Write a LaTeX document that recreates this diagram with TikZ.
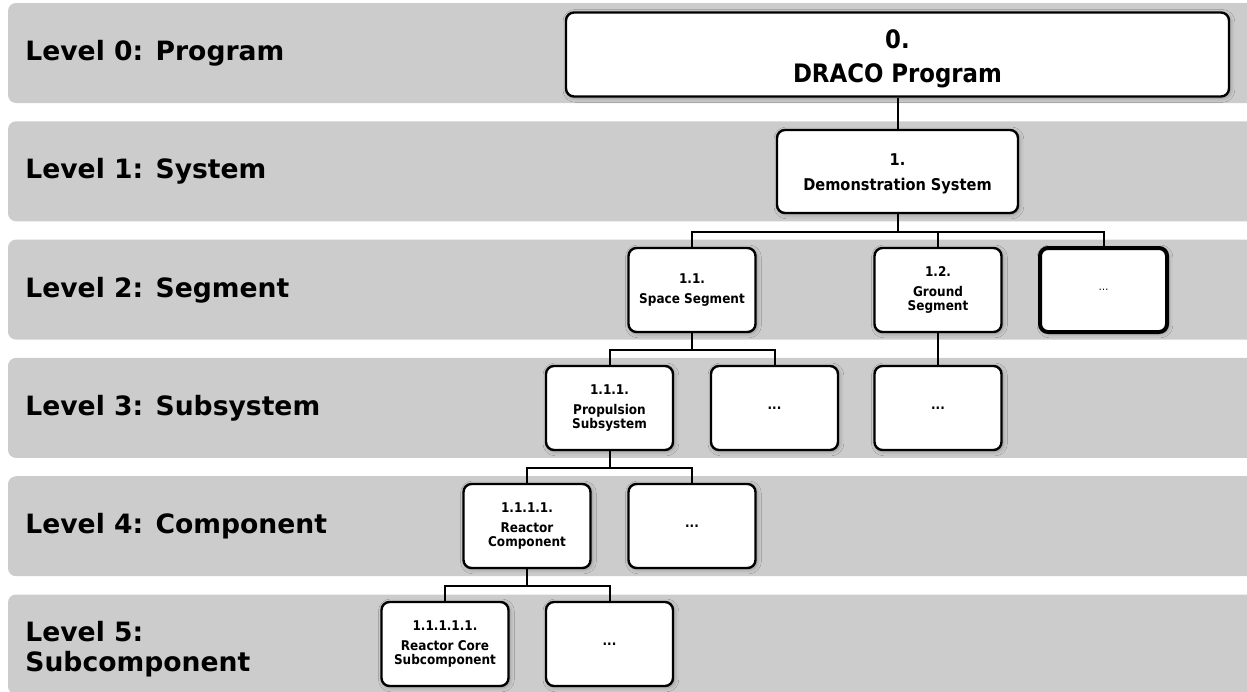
\documentclass[tikz,border=0pt]{standalone}
\usepackage{fontspec}
\setmainfont{DejaVu Sans}
\newfontfamily\boxfont{DejaVu Sans Condensed}
\usepackage{xcolor}
\usepackage{tikz}
\usetikzlibrary{positioning,calc,shadows.blur}
\definecolor{band}{HTML}{CCCCCC}
\definecolor{ink}{HTML}{000000}
\tikzset{
  lvlband/.style={fill=band,draw=none,rounded corners=4pt},
  lvl/.style={anchor=west,align=left,inner sep=0pt,font=\fontsize{13.3}{15}\selectfont\bfseries,text=ink},
  box/.style={draw=ink,fill=white,rounded corners=4pt,line width=1.2pt,align=center,inner sep=0pt,
    minimum width=63.5pt,minimum height=42pt,font=\boxfont\fontsize{6.7}{7}\selectfont\bfseries,
    blur shadow={shadow xshift=0.7pt,shadow yshift=-0.7pt,shadow blur steps=3,shadow opacity=30}},
  boxz/.style={box,minimum width=331.5pt,font=\boxfont\fontsize{12.7}{15}\selectfont\bfseries},
  boxs/.style={box,minimum width=120.5pt,minimum height=41.5pt,font=\boxfont\fontsize{8.1}{9.5}\selectfont\bfseries},
  boxd/.style={box,line width=2pt},
  conn/.style={draw=ink,line width=1pt},
}
\begin{document}
\begin{tikzpicture}[x=0.5pt,y=-0.5pt]
\useasboundingbox (0,0) rectangle (1247,691);
% level bands
\foreach \i in {0,...,5} \fill[lvlband] (8,{3+118.3*\i}) rectangle (1262,{103+118.3*\i});
\node[lvl] (l0) at (25,53) {Level 0: Program};
\node[lvl] (l1) at (25,171) {Level 1: System};
\node[lvl] (l2) at (25,290) {Level 2: Segment};
\node[lvl] (l3) at (25,408) {Level 3: Subsystem};
\node[lvl] (l4) at (25,526) {Level 4: Component};
\node[lvl] (l5) at (25,649) {Level 5:\\Subcomponent};
% tree
\node[boxz] (b0) at (897.5,54.5) {\rule{0pt}{14pt}0.\\[2pt]DRACO Program};
\node[boxs] (b1) at (897.5,171.5) {\rule{0pt}{8pt}1.\\[3pt]Demonstration System};
\node[box] (b11) at (692,290) {1.1.\\[3pt]Space Segment};
\node[box] (b12) at (938,290) {1.2.\\[3pt]Ground\\Segment};
\node[boxd] (b13) at (1103.5,290) {\mdseries\fontsize{5.5}{6}\selectfont\dots};
\node[box] (b111) at (609.5,408) {1.1.1.\\[3pt]Propulsion\\Subsystem};
\node[box] (b112) at (774.5,408) {...};
\node[box] (b121) at (938,408) {...};
\node[box] (b1111) at (527,526) {1.1.1.1.\\[3pt]Reactor\\Component};
\node[box] (b1112) at (692,526) {...};
\node[box] (b11111) at (445,644) {1.1.1.1.1.\\[3pt]Reactor Core\\Subcomponent};
\node[box] (b11112) at (609.5,644) {...};
\draw[conn](b0.south)--(b1.north);
\draw[conn](b1.south)--++(0,18)-|(b11.north);\draw[conn](b1.south)--++(0,18)-|(b12.north);\draw[conn](b1.south)--++(0,18)-|(b13.north);
\draw[conn](b11.south)--++(0,17)-|(b111.north);\draw[conn](b11.south)--++(0,17)-|(b112.north);
\draw[conn](b12.south)--(b121.north);
\draw[conn](b111.south)--++(0,17)-|(b1111.north);\draw[conn](b111.south)--++(0,17)-|(b1112.north);
\draw[conn](b1111.south)--++(0,17)-|(b11111.north);\draw[conn](b1111.south)--++(0,17)-|(b11112.north);
\end{tikzpicture}
\end{document}
